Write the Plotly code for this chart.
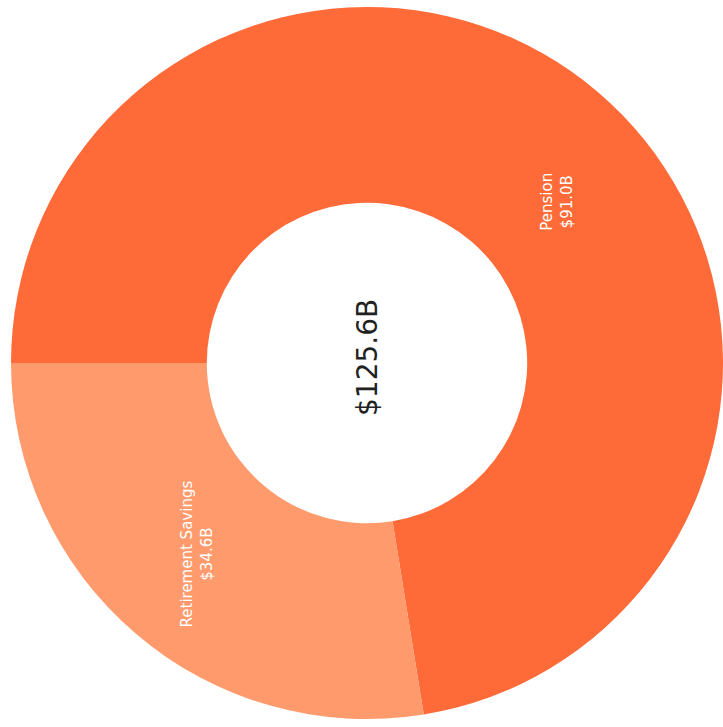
import plotly.graph_objects as go

categories = ["Pension", "Retirement Savings"]
values = [91.0, 34.6]
value_labels = ["$91.0B", "$34.6B"]
total_label = "$125.6B"
colors = ["#FF6B38", "#FF9A6C"]

# label anchor positions in paper coords (layout only)
label_pos = [(0.767, 0.726), (0.261, 0.233)]

fig = go.Figure(go.Pie(
    labels=categories,
    values=values,
    hole=0.45,
    sort=False,
    direction="clockwise",
    rotation=-90,
    marker=dict(colors=colors, line=dict(width=0)),
    textinfo="none",
    hoverinfo="label+value",
    showlegend=False,
))

annotations = []
for (x, y), cat, vl in zip(label_pos, categories, value_labels):
    annotations.append(dict(
        x=x, y=y, xref="paper", yref="paper",
        xanchor="center", yanchor="middle",
        text=f"{cat}<br>{vl}", showarrow=False, textangle=-90,
        font=dict(family="DejaVu Sans, Arial, sans-serif", size=15, color="white"),
        align="center",
    ))
annotations.append(dict(
    x=0.5, y=0.507, xref="paper", yref="paper",
    xanchor="center", yanchor="middle",
    text=total_label,
    showarrow=False, textangle=-90,
    font=dict(family="DejaVu Sans, Arial, sans-serif", size=28, color="#222222"),
))

fig.update_layout(
    width=723, height=727,
    margin=dict(l=11, r=0, t=6, b=7),
    paper_bgcolor="white",
    plot_bgcolor="white",
    annotations=annotations,
)

fig.write_html("out.html", config={"displayModeBar": False},
               post_script="document.body.style.margin='0';")
